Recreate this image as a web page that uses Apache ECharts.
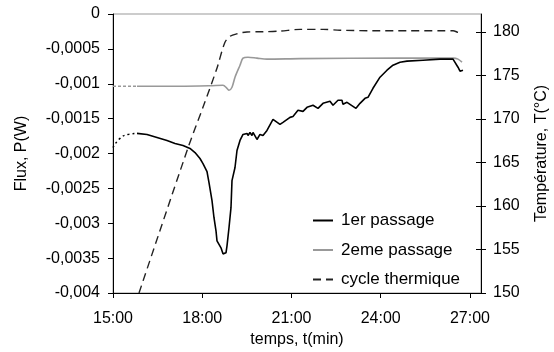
<!DOCTYPE html>
<html><head><meta charset="utf-8">
<script src="https://cdn.jsdelivr.net/npm/echarts@6/dist/echarts.min.js"></script>
<style>html,body{margin:0;padding:0;background:#fff}#c{width:554px;height:352px}</style>
</head><body><div id="c"></div>
<script>
// time in minutes, flux in W, temperature in °C
const xTicks = [15, 18, 21, 24, 27];
const xTickLabels = ['15:00', '18:00', '21:00', '24:00', '27:00'];
const tempTicks = [150, 155, 160, 165, 170, 175, 180];
const seriesNames = ['1er passage', '2eme passage', 'cycle thermique'];

const pass1Start = [[15.0,-0.001914],[15.235,-0.001784],[15.504,-0.001727],[15.807,-0.001712]];
const pass1 = [[15.807,-0.001712],[16.143,-0.001727],[16.479,-0.001770],[16.815,-0.001813],[17.084,-0.001856],
[17.353,-0.001885],[17.588,-0.001928],[17.756,-0.001986],[17.924,-0.002072],[18.025,-0.002144],[18.160,-0.002259],
[18.227,-0.002417],[18.328,-0.002676],[18.395,-0.002921],[18.462,-0.003108],[18.496,-0.003252],[18.529,-0.003280],
[18.563,-0.003237],[18.630,-0.003352],[18.697,-0.003439],[18.798,-0.003424],[18.832,-0.003324],[18.899,-0.003065],
[18.966,-0.002777],[19.000,-0.002388],[19.101,-0.002201],[19.168,-0.001957],[19.269,-0.001813],[19.370,-0.001727],
[19.504,-0.001712],[19.538,-0.001741],[19.605,-0.001698],[19.672,-0.001741],[19.706,-0.001698],[19.840,-0.001799],
[19.941,-0.001727],[20.042,-0.001741],[20.176,-0.001669],[20.378,-0.001511],[20.613,-0.001583],[20.714,-0.001554],
[20.950,-0.001482],[21.050,-0.001468],[21.218,-0.001381],[21.387,-0.001396],[21.521,-0.001338],[21.723,-0.001309],
[21.891,-0.001353],[22.059,-0.001281],[22.294,-0.001252],[22.395,-0.001309],[22.563,-0.001237],[22.697,-0.001237],
[22.731,-0.001295],[22.866,-0.001266],[22.966,-0.001295],[23.168,-0.001353],[23.303,-0.001281],[23.471,-0.001209],
[23.571,-0.001194],[23.739,-0.001065],[23.975,-0.000906],[24.210,-0.000806],[24.412,-0.000734],[24.647,-0.000691],
[24.882,-0.000676],[25.420,-0.000662],[25.992,-0.000647],[26.429,-0.000647],[26.496,-0.000662],[26.597,-0.000763],
[26.664,-0.000820],[26.765,-0.000806]];

const pass2Start = [[15.0,-0.001036],[15.807,-0.001036]];
const pass2 = [[15.807,-0.001036],[17.252,-0.001036],[18.261,-0.001029],[18.697,-0.001022],[18.832,-0.001065],
[18.899,-0.001093],[19.0,-0.001050],[19.101,-0.000906],[19.269,-0.000734],[19.370,-0.000633],[19.538,-0.000619],
[19.840,-0.000633],[20.176,-0.000647],[21.286,-0.000640],[24.647,-0.000633],[26.429,-0.000633],[26.597,-0.000647],
[26.731,-0.000691]];

const thermal = [[15.874,150],[17.52,166.67],[18.03,171.4],[18.50,175.9],[18.76,178.8],[18.93,179.5],[19.17,179.8],
[19.50,180.0],[20.04,180.03],[20.61,180.1],[21.29,180.3],[22.06,180.3],[22.63,180.2],[23.74,180.15],[24.88,180.15],
[25.99,180.15],[26.43,180.15],[26.60,179.95],[26.66,179.9]];

const FONT = 'Liberation Sans';
const chart = echarts.init(document.getElementById('c'), null, {renderer: 'canvas'});
const fluxFmt = v => { const r = Math.round(v * 1e4) / 1e4; return r === 0 ? '0' : String(r).replace('.', ','); };
const lbl = {color: '#000', fontFamily: FONT, fontSize: 16};

chart.setOption({
  animation: false,
  grid: {left: 113, right: 73, top: 14, bottom: 59, show: true, borderColor: '#999', borderWidth: 1,
    containLabel: false, outerBoundsMode: 'none'},
  legend: {
    data: seriesNames, orient: 'vertical', left: 307, top: 207, itemWidth: 20, itemHeight: 10, itemGap: 12.5,
    itemStyle: {opacity: 0},
    textStyle: {color: '#000', fontFamily: FONT, fontSize: 17, padding: [0,0,0,3]}
  },
  xAxis: {
    type: 'value', min: 15, max: 27.37, interval: 3,
    name: 'temps, t(min)', nameLocation: 'middle', nameGap: 36,
    nameTextStyle: lbl,
    axisLine: {onZero: false, lineStyle: {color: '#000', width: 1}},
    axisTick: {length: 5, lineStyle: {color: '#000'}, customValues: xTicks},
    axisLabel: Object.assign({margin: 18, customValues: xTicks,
      formatter: v => xTickLabels[xTicks.indexOf(Math.round(v))] || ''}, lbl),
    splitLine: {show: false}
  },
  yAxis: [{
    type: 'value', min: -0.004, max: 0, interval: 0.0005, position: 'left',
    name: 'Flux, P(W)', nameLocation: 'middle', nameGap: 83, nameTextStyle: lbl,
    axisLine: {show: true, onZero: false, lineStyle: {color: '#000'}},
    axisTick: {show: true, length: 5, lineStyle: {color: '#000'}},
    axisLabel: Object.assign({margin: 13, formatter: fluxFmt}, lbl),
    splitLine: {show: false}
  }, {
    type: 'value', min: 150, max: 182.07, interval: 5, position: 'right',
    name: 'Température, T(°C)', nameLocation: 'middle', nameGap: 53, nameRotate: 90, nameTextStyle: lbl,
    axisLine: {show: true, onZero: false, lineStyle: {color: '#000'}},
    axisTick: {show: true, length: 5, lineStyle: {color: '#000'}, customValues: tempTicks},
    axisLabel: Object.assign({margin: 12, customValues: tempTicks}, lbl),
    splitLine: {show: false}
  }, {
    type: 'value', min: 150, max: 182.07, position: 'right',
    axisLine: {show: false},
    axisTick: {show: true, inside: true, length: 5, lineStyle: {color: '#000'}, customValues: tempTicks},
    axisLabel: {show: false}, splitLine: {show: false}
  }],
  series: [
    {name: 'pass1start', type: 'line', data: pass1Start, symbol: 'none', smooth: true,
      lineStyle: {color: '#000', width: 1.5, type: [2, 3]}},
    {name: 'pass2start', type: 'line', data: pass2Start, symbol: 'none',
      lineStyle: {color: '#999', width: 1.5, type: [3, 2]}},
    {name: seriesNames[1], type: 'line', data: pass2, symbol: 'none', smooth: 0.3,
      lineStyle: {color: '#999', width: 1.6}, itemStyle: {color: '#999'}},
    {name: seriesNames[0], type: 'line', data: pass1, symbol: 'none',
      lineStyle: {color: '#000', width: 1.6}, itemStyle: {color: '#000'}},
    {name: seriesNames[2], type: 'line', yAxisIndex: 1, data: thermal, symbol: 'none', smooth: 0.3,
      lineStyle: {color: '#222', width: 1.4, type: [8, 5]}, itemStyle: {color: '#222'}}
  ]
});
</script></body></html>
